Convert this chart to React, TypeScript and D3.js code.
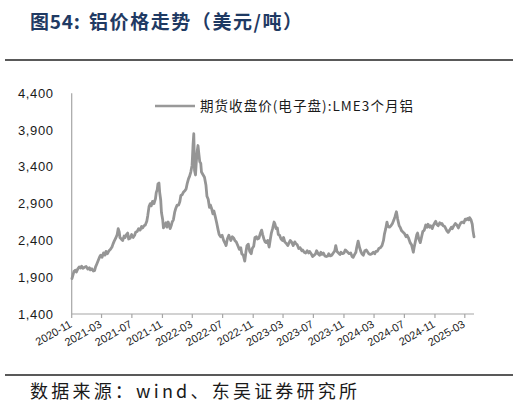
import React from "react";
import * as d3 from "d3";

const titleLead = "图54:";
const titleText = "铝价格走势（美元/吨）";
const sourceText = "数据来源：wind、东吴证券研究所";
const seriesName = "期货收盘价(电子盘):LME3个月铝";

const yTicks = [1400, 1900, 2400, 2900, 3400, 3900, 4400];
const xTickLabels = [
  "2020-11", "2021-03", "2021-07", "2021-11", "2022-03", "2022-07", "2022-11",
  "2023-03", "2023-07", "2023-11", "2024-03", "2024-07", "2024-11", "2025-03",
];
const xDomain = ["2020-11-01", "2025-04-07"];

const points2020: [string, number][] = [
  ["2020-11-02", 1880], ["2020-11-06", 1930], ["2020-11-10", 1980], ["2020-11-16", 1995],
  ["2020-11-20", 1970], ["2020-11-25", 2010], ["2020-12-01", 2040], ["2020-12-07", 2025],
  ["2020-12-11", 2050], ["2020-12-16", 2020], ["2020-12-22", 2035], ["2020-12-29", 2045],
];
const points2021: [string, number][] = [
  ["2021-01-05", 2010], ["2021-01-11", 2030], ["2021-01-15", 2000], ["2021-01-21", 2015],
  ["2021-01-27", 1985], ["2021-02-01", 1990], ["2021-02-05", 2040], ["2021-02-10", 2080],
  ["2021-02-16", 2130], ["2021-02-22", 2180], ["2021-02-26", 2200], ["2021-03-03", 2170],
  ["2021-03-09", 2230], ["2021-03-15", 2200], ["2021-03-19", 2250], ["2021-03-25", 2220],
  ["2021-03-31", 2260], ["2021-04-06", 2280], ["2021-04-12", 2310], ["2021-04-16", 2350],
  ["2021-04-21", 2390], ["2021-04-27", 2430], ["2021-05-03", 2480], ["2021-05-07", 2560],
  ["2021-05-11", 2520], ["2021-05-14", 2440], ["2021-05-19", 2420], ["2021-05-25", 2400],
  ["2021-05-31", 2460], ["2021-06-04", 2440], ["2021-06-09", 2480], ["2021-06-14", 2500],
  ["2021-06-18", 2420], ["2021-06-24", 2430], ["2021-06-30", 2480], ["2021-07-06", 2440],
  ["2021-07-12", 2470], ["2021-07-16", 2510], ["2021-07-22", 2520], ["2021-07-28", 2560],
  ["2021-08-03", 2540], ["2021-08-09", 2590], ["2021-08-13", 2570], ["2021-08-19", 2600],
  ["2021-08-24", 2610], ["2021-08-30", 2660], ["2021-09-03", 2740], ["2021-09-08", 2860],
  ["2021-09-13", 2900], ["2021-09-17", 2870], ["2021-09-22", 2930], ["2021-09-28", 2900],
  ["2021-10-04", 2970], ["2021-10-07", 3050], ["2021-10-11", 3090], ["2021-10-14", 3170],
  ["2021-10-18", 3180], ["2021-10-21", 3050], ["2021-10-25", 2950], ["2021-10-28", 2780],
  ["2021-11-02", 2680], ["2021-11-05", 2570], ["2021-11-09", 2600], ["2021-11-15", 2640],
  ["2021-11-19", 2580], ["2021-11-24", 2650], ["2021-11-29", 2600], ["2021-12-02", 2560],
  ["2021-12-07", 2610], ["2021-12-10", 2650], ["2021-12-15", 2680], ["2021-12-20", 2780],
  ["2021-12-24", 2830], ["2021-12-30", 2880],
];
const points2022: [string, number][] = [
  ["2022-01-05", 2880], ["2022-01-10", 2930], ["2022-01-14", 3010], ["2022-01-19", 3020],
  ["2022-01-25", 3060], ["2022-01-31", 3080], ["2022-02-04", 3100], ["2022-02-09", 3180],
  ["2022-02-14", 3240], ["2022-02-18", 3270], ["2022-02-23", 3330], ["2022-02-28", 3420],
  ["2022-03-02", 3550], ["2022-03-04", 3700], ["2022-03-07", 3850], ["2022-03-08", 3700],
  ["2022-03-10", 3350], ["2022-03-14", 3290], ["2022-03-17", 3460], ["2022-03-21", 3620],
  ["2022-03-24", 3690], ["2022-03-28", 3560], ["2022-03-31", 3470], ["2022-04-04", 3450],
  ["2022-04-07", 3330], ["2022-04-12", 3300], ["2022-04-19", 3260], ["2022-04-25", 3150],
  ["2022-04-29", 3000], ["2022-05-04", 2960], ["2022-05-09", 2850], ["2022-05-13", 2880],
  ["2022-05-18", 2830], ["2022-05-23", 2760], ["2022-05-27", 2800], ["2022-06-01", 2730],
  ["2022-06-07", 2640], ["2022-06-13", 2540], ["2022-06-17", 2480], ["2022-06-23", 2450],
  ["2022-06-29", 2470], ["2022-07-05", 2400], ["2022-07-11", 2360], ["2022-07-15", 2330],
  ["2022-07-20", 2420], ["2022-07-26", 2470], ["2022-07-29", 2440], ["2022-08-03", 2400],
  ["2022-08-09", 2450], ["2022-08-15", 2430], ["2022-08-19", 2400], ["2022-08-25", 2380],
  ["2022-08-31", 2330], ["2022-09-06", 2280], ["2022-09-12", 2300], ["2022-09-16", 2220],
  ["2022-09-22", 2200], ["2022-09-28", 2120], ["2022-10-03", 2250], ["2022-10-07", 2330],
  ["2022-10-12", 2350], ["2022-10-18", 2250], ["2022-10-24", 2220], ["2022-10-28", 2290],
  ["2022-11-03", 2320], ["2022-11-08", 2440], ["2022-11-14", 2450], ["2022-11-18", 2420],
  ["2022-11-24", 2430], ["2022-11-30", 2500], ["2022-12-05", 2540], ["2022-12-09", 2480],
  ["2022-12-14", 2420], ["2022-12-19", 2380], ["2022-12-23", 2370], ["2022-12-29", 2400],
];
const points2023: [string, number][] = [
  ["2023-01-04", 2310], ["2023-01-09", 2420], ["2023-01-13", 2500], ["2023-01-18", 2560],
  ["2023-01-24", 2650], ["2023-01-27", 2630], ["2023-02-01", 2560], ["2023-02-06", 2570],
  ["2023-02-10", 2480], ["2023-02-15", 2470], ["2023-02-21", 2420], ["2023-02-27", 2400],
  ["2023-03-03", 2440], ["2023-03-08", 2380], ["2023-03-14", 2360], ["2023-03-20", 2330],
  ["2023-03-24", 2360], ["2023-03-30", 2400], ["2023-04-04", 2380], ["2023-04-11", 2330],
  ["2023-04-17", 2380], ["2023-04-21", 2360], ["2023-04-27", 2340], ["2023-05-03", 2290],
  ["2023-05-09", 2300], ["2023-05-15", 2260], ["2023-05-19", 2270], ["2023-05-25", 2240],
  ["2023-05-31", 2230], ["2023-06-06", 2260], ["2023-06-12", 2230], ["2023-06-16", 2250],
  ["2023-06-22", 2220], ["2023-06-28", 2180], ["2023-07-04", 2200], ["2023-07-10", 2220],
  ["2023-07-14", 2260], ["2023-07-20", 2220], ["2023-07-26", 2200], ["2023-07-31", 2240],
  ["2023-08-04", 2210], ["2023-08-10", 2230], ["2023-08-16", 2190], ["2023-08-22", 2180],
  ["2023-08-28", 2190], ["2023-09-01", 2220], ["2023-09-07", 2190], ["2023-09-13", 2200],
  ["2023-09-19", 2230], ["2023-09-25", 2260], ["2023-09-29", 2330], ["2023-10-04", 2250],
  ["2023-10-10", 2230], ["2023-10-16", 2210], ["2023-10-20", 2240], ["2023-10-26", 2220],
  ["2023-11-01", 2230], ["2023-11-06", 2270], ["2023-11-10", 2260], ["2023-11-16", 2240],
  ["2023-11-22", 2220], ["2023-11-28", 2230], ["2023-12-04", 2180], ["2023-12-08", 2170],
  ["2023-12-14", 2210], ["2023-12-19", 2240], ["2023-12-22", 2300], ["2023-12-28", 2390],
];
const points2024: [string, number][] = [
  ["2024-01-03", 2300], ["2024-01-09", 2240], ["2024-01-12", 2220], ["2024-01-18", 2200],
  ["2024-01-24", 2260], ["2024-01-30", 2270], ["2024-02-05", 2240], ["2024-02-09", 2220],
  ["2024-02-15", 2210], ["2024-02-21", 2220], ["2024-02-27", 2240], ["2024-03-04", 2220],
  ["2024-03-08", 2250], ["2024-03-14", 2250], ["2024-03-20", 2290], ["2024-03-26", 2300],
  ["2024-04-02", 2330], ["2024-04-08", 2400], ["2024-04-12", 2490], ["2024-04-17", 2560],
  ["2024-04-22", 2650], ["2024-04-26", 2590], ["2024-05-02", 2580], ["2024-05-08", 2600],
  ["2024-05-14", 2630], ["2024-05-20", 2680], ["2024-05-24", 2720], ["2024-05-30", 2790],
  ["2024-06-04", 2690], ["2024-06-10", 2600], ["2024-06-14", 2580], ["2024-06-20", 2530],
  ["2024-06-26", 2510], ["2024-07-02", 2490], ["2024-07-08", 2450], ["2024-07-12", 2470],
  ["2024-07-18", 2430], ["2024-07-24", 2370], ["2024-07-30", 2340], ["2024-08-06", 2240],
  ["2024-08-09", 2300], ["2024-08-15", 2400], ["2024-08-20", 2480], ["2024-08-23", 2500],
  ["2024-08-28", 2420], ["2024-09-03", 2370], ["2024-09-09", 2460], ["2024-09-13", 2520],
  ["2024-09-19", 2540], ["2024-09-25", 2610], ["2024-09-30", 2580], ["2024-10-04", 2620],
  ["2024-10-10", 2580], ["2024-10-15", 2600], ["2024-10-21", 2560], ["2024-10-25", 2600],
  ["2024-10-31", 2640], ["2024-11-04", 2660], ["2024-11-08", 2620], ["2024-11-14", 2600],
  ["2024-11-20", 2640], ["2024-11-26", 2620], ["2024-11-29", 2630], ["2024-12-04", 2600],
  ["2024-12-10", 2590], ["2024-12-13", 2570], ["2024-12-19", 2530], ["2024-12-24", 2510],
  ["2024-12-30", 2540],
];
const points2025: [string, number][] = [
  ["2025-01-06", 2580], ["2025-01-10", 2560], ["2025-01-16", 2600], ["2025-01-22", 2630],
  ["2025-01-28", 2610], ["2025-02-03", 2570], ["2025-02-07", 2600], ["2025-02-13", 2640],
  ["2025-02-19", 2650], ["2025-02-25", 2640], ["2025-03-03", 2690], ["2025-03-07", 2680],
  ["2025-03-12", 2700], ["2025-03-17", 2680], ["2025-03-20", 2710], ["2025-03-26", 2680],
  ["2025-03-31", 2620], ["2025-04-03", 2530], ["2025-04-07", 2450],
];

const W = 518;
const H = 419;
const plot = { left: 71.7, right: 474, top: 93.3, bottom: 314 };

export default function App() {
  const parse = d3.timeParse("%Y-%m-%d");
  const parseMonth = d3.timeParse("%Y-%m");
  const all = [...points2020, ...points2021, ...points2022, ...points2023, ...points2024, ...points2025].map(
    ([d, v]) => ({ date: parse(d) as Date, value: v })
  );
  const x = d3
    .scaleTime()
    .domain([parse(xDomain[0]) as Date, parse(xDomain[1]) as Date])
    .range([plot.left, plot.right]);
  const y = d3.scaleLinear().domain([1400, 4400]).range([plot.bottom, plot.top]);
  const line = d3
    .line<{ date: Date; value: number }>()
    .x((d) => x(d.date))
    .y((d) => y(d.value));
  const fmt = d3.format(",");
  const axisColor = "#a6a6a6";
  const textColor = "#1a1a1a";
  const sans = "'Liberation Sans', Arial, sans-serif";
  const cjk = "'Noto Sans CJK SC', sans-serif";

  return (
    <svg
      width={W}
      height={H}
      viewBox={`0 0 ${W} ${H}`}
      style={{ position: "absolute", left: 0, top: 0, background: "#fff" }}
    >
      <text x={30} y={29} fontFamily={cjk} fontWeight="bold" fontSize={19} fill="#1f3a63" textLength={50} lengthAdjust="spacing">
        {titleLead}
      </text>
      <text x={89} y={29} fontFamily={cjk} fontWeight="bold" fontSize={19} fill="#1f3a63" textLength={213} lengthAdjust="spacing">
        {titleText}
      </text>
      <line x1={5} x2={513} y1={60} y2={60} stroke="#222" strokeWidth={1.6} />
      <line x1={5} x2={513} y1={375} y2={375} stroke="#222" strokeWidth={1.6} />

      {/* y axis */}
      <line x1={plot.left} x2={plot.left} y1={plot.top} y2={plot.bottom} stroke={axisColor} strokeWidth={1.2} />
      {yTicks.map((t) => (
        <text
          key={t}
          x={18}
          y={y(t)}
          dy="0.35em"
          fontFamily={sans}
          fontSize={13}
          fill={textColor}
          textLength={35}
          lengthAdjust="spacing"
        >
          {fmt(t)}
        </text>
      ))}

      {/* x axis */}
      <line x1={plot.left} x2={plot.right} y1={plot.bottom} y2={plot.bottom} stroke={axisColor} strokeWidth={1.2} />
      {xTickLabels.map((lab) => {
        const px = x(parseMonth(lab) as Date);
        return (
          <g key={lab} transform={`translate(${px},${plot.bottom})`}>
            <line y1={0} y2={4} stroke={axisColor} strokeWidth={1.2} />
            <text
              transform="translate(-1,9) rotate(-30)"
              textAnchor="end"
              dy="0.35em"
              fontFamily={sans}
              fontSize={11}
              fill={textColor}
            >
              {lab}
            </text>
          </g>
        );
      })}

      {/* legend */}
      <line x1={155} x2={195} y1={106} y2={106} stroke="#999" strokeWidth={2.6} />
      <text
        x={200}
        y={106}
        dy="0.35em"
        fontFamily={cjk}
        fontSize={13.5}
        fill={textColor}
        textLength={213}
        lengthAdjust="spacing"
      >
        {seriesName}
      </text>

      <path
        d={line(all) || ""}
        fill="none"
        stroke="#959595"
        strokeWidth={2.8}
        strokeLinejoin="round"
        strokeLinecap="round"
      />

      <text x={30} y={398} fontFamily={cjk} fontSize={18} fill={textColor} textLength={327} lengthAdjust="spacing">
        {sourceText}
      </text>
    </svg>
  );
}
